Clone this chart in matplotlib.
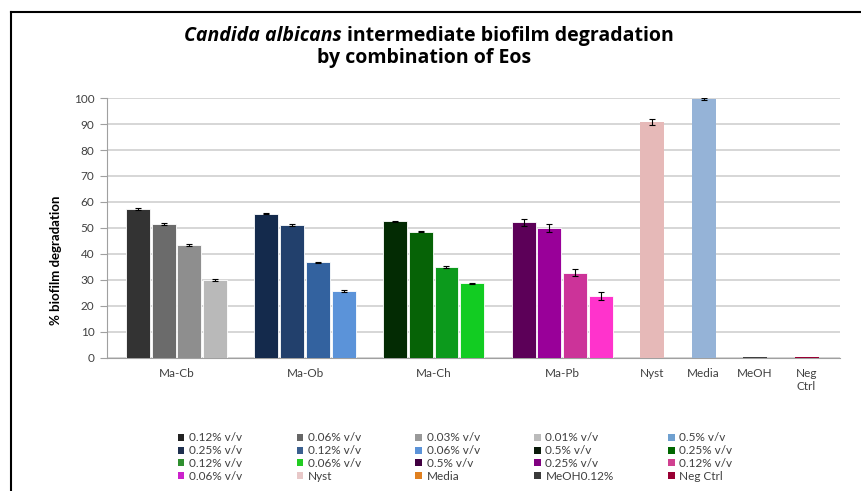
import matplotlib
matplotlib.use("Agg")
import matplotlib.pyplot as plt
from matplotlib.patches import Patch
from matplotlib.lines import Line2D

plt.rcParams['font.family'] = ['Lato', 'DejaVu Sans']

# combination groups, four concentrations each
groups = ["Ma-Cb", "Ma-Ob", "Ma-Ch", "Ma-Pb"]
group_vals = [
    [57.3, 51.6, 43.4, 29.9],
    [55.5, 51.2, 36.8, 25.7],
    [52.5, 48.6, 35.0, 28.7],
    [52.2, 49.9, 32.8, 23.8],
]
group_errs = [
    [0.3, 0.3, 0.3, 0.3],
    [0.3, 0.3, 0.3, 0.3],
    [0.3, 0.2, 0.3, 0.2],
    [1.4, 1.5, 1.3, 1.5],
]
group_colors = [
    ["#333333", "#6b6b6b", "#8e8e8e", "#b9b9b9"],
    ["#142a4c", "#22406c", "#33629f", "#5b93d9"],
    ["#032b03", "#066306", "#0c9a1c", "#12cc22"],
    ["#5c0058", "#990099", "#cc3399", "#ff33cc"],
]

# single controls
controls = ["Nyst", "Media", "MeOH", "Neg\nCtrl"]
control_vals = [90.7, 99.6, 0.5, 0.2]
control_errs = [1.1, 0.4, 0.0, 0.0]
control_colors = ["#e6b9b8", "#95b3d7", "#404040", "#990033"]

# legend entries (row by row)
legend_labels = ["0.12% v/v", "0.06% v/v", "0.03% v/v", "0.01% v/v", "0.5% v/v",
                 "0.25% v/v", "0.12% v/v", "0.06% v/v", "0.5% v/v", "0.25% v/v",
                 "0.12% v/v", "0.06% v/v", "0.5% v/v", "0.25% v/v", "0.12% v/v",
                 "0.06% v/v", "Nyst", "Media", "MeOH0.12%", "Neg Ctrl"]
legend_colors = ["#222222", "#666666", "#999999", "#bbbbbb", "#6fa0d0",
                 "#1f3050", "#3a5f8f", "#5b93d8", "#0a1a0a", "#006600",
                 "#2f8f2f", "#22cc22", "#400040", "#800080", "#d04090",
                 "#cc22cc", "#e8c8c8", "#e08020", "#3a3a3a", "#990033"]

fig = plt.figure(figsize=(8.62, 4.91), dpi=100)
ax = fig.add_axes([0.1241, 0.2709, 0.8504, 0.5295])

bw = 0.93
xticks = []
for g, (vals, errs, cols) in enumerate(zip(group_vals, group_errs, group_colors)):
    xs = [g * 5 + i for i in range(4)]
    ax.bar(xs, vals, width=bw, color=cols, edgecolor="white", linewidth=0.6, zorder=3)
    ax.errorbar(xs, vals, yerr=errs, fmt="none", ecolor="black", elinewidth=0.8,
                capsize=2.5, capthick=0.8, zorder=4)
    xticks.append(g * 5 + 1.5)

for c in range(len(controls)):
    x = 20 + 2 * c
    ax.bar(x, control_vals[c], width=bw, color=control_colors[c],
           edgecolor="none", zorder=3)
    if control_errs[c] > 0:
        ax.errorbar(x, control_vals[c], yerr=control_errs[c], fmt="none", ecolor="black",
                    elinewidth=0.8, capsize=2.5, capthick=0.8, zorder=4)
    xticks.append(x)

ax.set_xlim(-1.2, 27.3)
ax.set_ylim(0, 100)
ax.set_yticks(range(0, 101, 10))
ax.set_xticks(xticks)
ax.set_xticklabels(groups + controls, fontsize=8.5, color="#404040", va="top")
ax.tick_params(axis="x", length=0, pad=7)
ax.tick_params(axis="y", length=5, color="#a0a0a0", labelsize=8.5, labelcolor="#404040", pad=4)
ax.yaxis.grid(True, color="#cfcfcf", linewidth=1.2, zorder=0)
ax.set_axisbelow(True)
for s in ["top", "right"]:
    ax.spines[s].set_visible(False)
ax.spines["left"].set_color("#a0a0a0")
ax.spines["bottom"].set_color("#a0a0a0")
ax.set_ylabel("% biofilm degradation", fontsize=9.5, fontweight="bold")
ax.yaxis.set_label_coords(-0.061, 0.375)

# two-line title, species name in italics
title_font = dict(fontsize=14, fontweight="bold", family=["Open Sans", "DejaVu Sans"])
t1 = fig.text(0, 0.926, "Candida albicans ", style="italic", ha="left", va="center",
              **title_font)
t2 = fig.text(0, 0.926, "intermediate biofilm degradation", ha="left", va="center",
              **title_font)
fig.canvas.draw()
W = fig.bbox.width
w1 = t1.get_window_extent().width / W
w2 = t2.get_window_extent().width / W
x0 = 0.498 - (w1 + w2) / 2
t1.set_x(x0)
t2.set_x(x0 + w1)
fig.text(0.492, 0.881, "by combination of Eos", ha="center", va="center", **title_font)

# legend, 5 columns filled row by row
handles = [Patch(facecolor=c, edgecolor="none") for c in legend_colors]
ncol, nrow = 5, 4
order = [r * ncol + c for c in range(ncol) for r in range(nrow)]
fig.legend([handles[i] for i in order], [legend_labels[i] for i in order],
           ncol=ncol, loc="center", bbox_to_anchor=(0.528, 0.069), frameon=False,
           fontsize=8.5, handlelength=0.55, handleheight=0.55, handletextpad=0.4,
           columnspacing=4.6, labelspacing=0.15, labelcolor="#404040")

# outer frame
fig.add_artist(Line2D([0.0122, 0.0122], [0.0, 0.976], color="black", linewidth=1.5))
fig.add_artist(Line2D([0.0122, 1.0], [0.976, 0.976], color="black", linewidth=1.5))

fig.savefig("out.png", dpi=100)
